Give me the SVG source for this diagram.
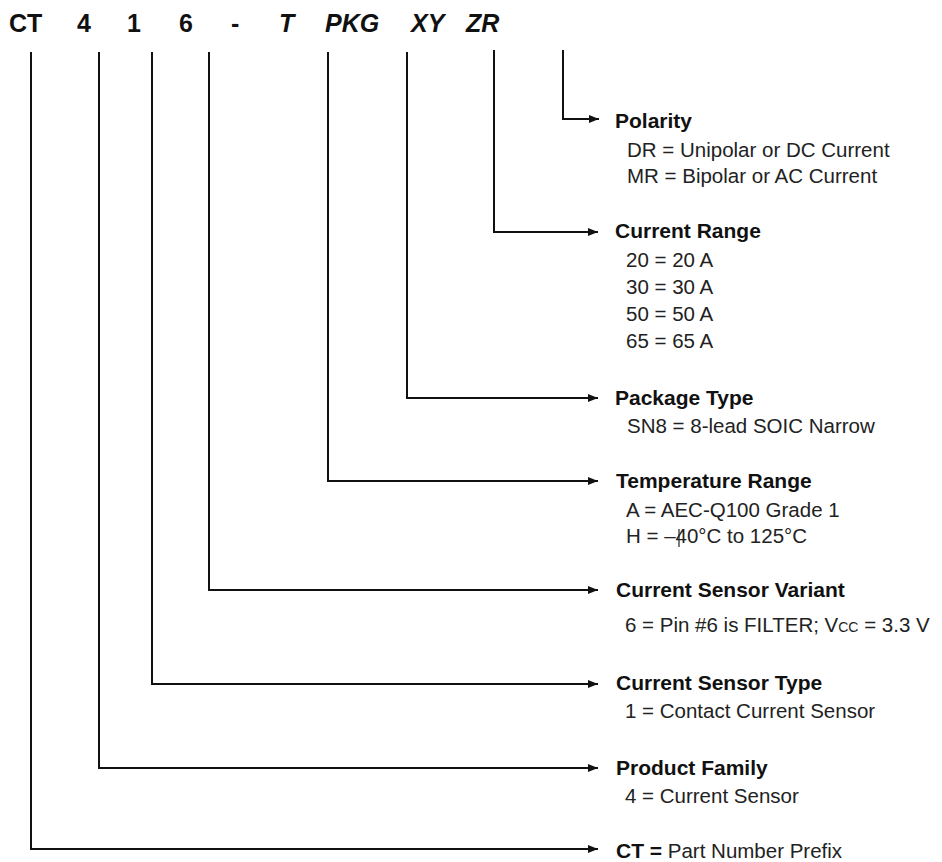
<svg xmlns="http://www.w3.org/2000/svg" width="942" height="862" viewBox="0 0 942 862">
<style>
.hd{font-family:"Liberation Sans",Arial,sans-serif;font-weight:bold;font-size:25px;fill:#111}
.it{font-style:italic}
.t{font-family:"Liberation Sans",Arial,sans-serif;font-weight:bold;font-size:21px;fill:#111}
.s{font-family:"Liberation Sans",Arial,sans-serif;font-size:20.5px;fill:#222}
.ln{fill:none;stroke:#111;stroke-width:2}
</style>
<defs>
<marker id="ah" markerWidth="10" markerHeight="8" refX="10" refY="4" orient="auto" markerUnits="userSpaceOnUse">
<path d="M0,0 L10,4 L0,8 Z" fill="#111"/>
</marker>
</defs>
<rect width="942" height="862" fill="#fff"/>
<g id="header">
<text class="hd" x="9" y="32">CT</text>
<text class="hd" x="77" y="32">4</text>
<text class="hd" x="127" y="32">1</text>
<text class="hd" x="179" y="32">6</text>
<text class="hd" x="231" y="32">-</text>
<text class="hd it" x="279" y="32">T</text>
<text class="hd it" x="325" y="32">PKG</text>
<text class="hd it" x="411" y="32">XY</text>
<text class="hd it" x="466" y="32">ZR</text>
</g>
<g id="connectors">
<path class="ln" d="M563,50 V119 H599" marker-end="url(#ah)"/>
<path class="ln" d="M494,50 V232 H598" marker-end="url(#ah)"/>
<path class="ln" d="M407,52 V398 H598" marker-end="url(#ah)"/>
<path class="ln" d="M328,52 V481 H598" marker-end="url(#ah)"/>
<path class="ln" d="M209,52 V590 H598" marker-end="url(#ah)"/>
<path class="ln" d="M152,52 V684 H598" marker-end="url(#ah)"/>
<path class="ln" d="M99,52 V768 H598" marker-end="url(#ah)"/>
<path class="ln" d="M31,52 V849 H598" marker-end="url(#ah)"/>
</g>
<g id="polarity">
<text class="t" x="615" y="128">Polarity</text>
<text class="s" x="627" y="157">DR = Unipolar or DC Current</text>
<text class="s" x="627" y="183">MR = Bipolar or AC Current</text>
</g>
<g id="current-range">
<text class="t" x="615" y="238">Current Range</text>
<text class="s" x="626" y="267">20 = 20 A</text>
<text class="s" x="626" y="294">30 = 30 A</text>
<text class="s" x="626" y="321">50 = 50 A</text>
<text class="s" x="626" y="348">65 = 65 A</text>
</g>
<g id="package-type">
<text class="t" x="615" y="405">Package Type</text>
<text class="s" x="627" y="433">SN8 = 8-lead SOIC Narrow</text>
</g>
<g id="temperature-range">
<text class="t" x="616" y="488">Temperature Range</text>
<text class="s" x="626" y="517">A = AEC-Q100 Grade 1</text>
<text class="s" x="626" y="543">H = –40°C to 125°C</text>
<line x1="679" y1="529" x2="679" y2="547" stroke="#222" stroke-width="1.2"/>
</g>
<g id="current-sensor-variant">
<text class="t" x="616" y="597">Current Sensor Variant</text>
<text class="s" x="625" y="632">6 = Pin #6 is FILTER; V<tspan font-size="14">CC</tspan> = 3.3 V</text>
</g>
<g id="current-sensor-type">
<text class="t" x="616" y="690">Current Sensor Type</text>
<text class="s" x="625" y="718">1 = Contact Current Sensor</text>
</g>
<g id="product-family">
<text class="t" x="616" y="775">Product Family</text>
<text class="s" x="625" y="803">4 = Current Sensor</text>
</g>
<g id="ct-prefix">
<text class="s" x="616" y="858"><tspan class="t">CT =</tspan> Part Number Prefix</text>
</g>
</svg>
